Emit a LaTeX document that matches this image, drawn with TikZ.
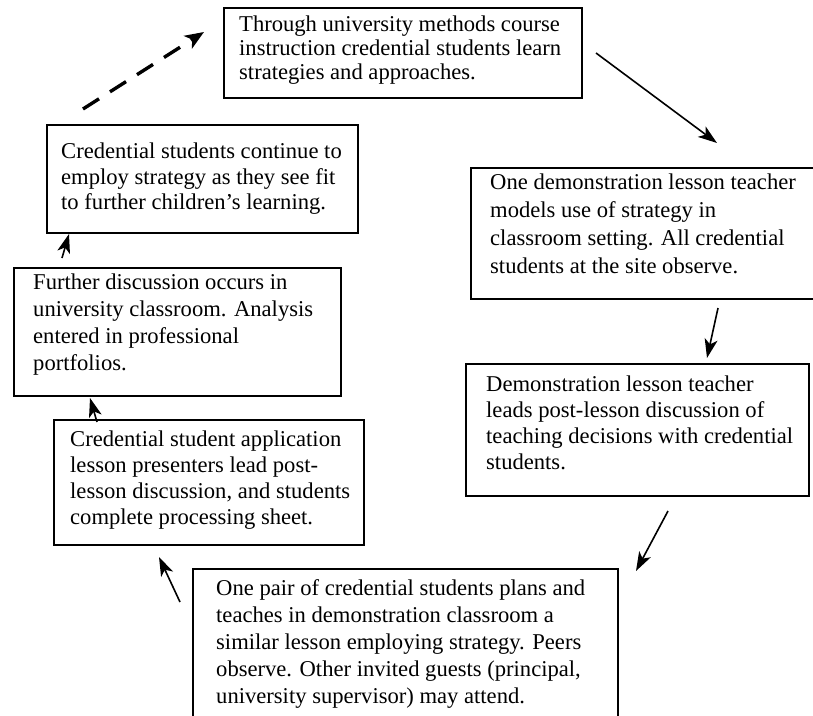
\documentclass[tikz,border=0pt]{standalone}
\usepackage{fontspec}
\setmainfont{Liberation Serif}
\usetikzlibrary{arrows.meta}
\begin{document}
\begin{tikzpicture}[x=1pt,y=-1pt,
  boxnode/.style={draw, line width=1.8pt, rectangle, inner sep=0pt, anchor=north west},
  txt/.style={anchor=north west, align=left, inner sep=0pt},
  arr/.style={line width=1.6pt, -{Stealth[length=19pt,width=13pt,inset=5pt]}},
  darr/.style={line width=3.4pt, dash pattern=on 19pt off 13pt, -{Stealth[length=19pt,width=15pt,inset=5pt]}}]
\useasboundingbox (0,0) rectangle (813,715);
\clip (0,0) rectangle (813,715);
\fill[white] (0,0) rectangle (813,715);

% boxes
\node[boxnode, minimum width=358pt, minimum height=90pt] (b1) at (223,7) {};
\node[boxnode, minimum width=345pt, minimum height=131pt] (b2) at (470,167) {};
\node[boxnode, minimum width=343pt, minimum height=132pt] (b3) at (465,363) {};
\node[boxnode, minimum width=425pt, minimum height=165pt] (b4) at (192,568) {};
\node[boxnode, minimum width=310pt, minimum height=125pt] (b5) at (53,419) {};
\node[boxnode, minimum width=327pt, minimum height=128pt] (b6) at (13,267) {};
\node[boxnode, minimum width=311pt, minimum height=108pt] (b7) at (46,124) {};

% texts
\node[txt, font=\fontsize{22.6}{24}\selectfont] (t1) at (239,16)
  {Through university methods course\\instruction credential students learn\\strategies and approaches.};
\node[txt, font=\fontsize{22.6}{28}\selectfont] (t2) at (490,174)
  {One demonstration lesson teacher\\models use of strategy in\\classroom setting. All credential\\students at the site observe.};
\node[txt, font=\fontsize{22.6}{26}\selectfont] (t3) at (486,376)
  {Demonstration lesson teacher\\leads post-lesson discussion of\\teaching decisions with credential\\students.};
\node[txt, font=\fontsize{22.6}{27}\selectfont] (t4) at (216,579)
  {One pair of credential students plans and\\teaches in demonstration classroom a\\similar lesson employing strategy. Peers\\observe. Other invited guests (principal,\\university supervisor) may attend.};
\node[txt, font=\fontsize{22.6}{26}\selectfont] (t5) at (70,431)
  {Credential student application\\lesson presenters lead post-\\lesson discussion, and students\\complete processing sheet.};
\node[txt, font=\fontsize{22.6}{27}\selectfont] (t6) at (33,274)
  {Further discussion occurs in\\university classroom. Analysis\\entered in professional\\portfolios.};
\node[txt, font=\fontsize{22.6}{25.5}\selectfont] (t7) at (61,143)
  {Credential students continue to\\employ strategy as they see fit\\to further children’s learning.};

% arrow end points
\coordinate (d0) at (83,109);  \coordinate (d1) at (204,32);
\coordinate (a1s) at (596,53); \coordinate (a1e) at (717,143);
\coordinate (a2s) at (718,308); \coordinate (a2e) at (707,358);
\coordinate (a3s) at (668,511); \coordinate (a3e) at (636,571);
\coordinate (a4s) at (180,602); \coordinate (a4e) at (159,557);
\coordinate (a5s) at (97,422);  \coordinate (a5e) at (90,398);
\coordinate (a6s) at (62,258);  \coordinate (a6e) at (69,234);

\draw[darr] (d0) -- (d1);
\draw[arr] (a1s) -- (a1e);
\draw[arr] (a2s) -- (a2e);
\draw[arr] (a3s) -- (a3e);
\draw[arr] (a4s) -- (a4e);
\draw[arr] (a5s) -- (a5e);
\draw[arr] (a6s) -- (a6e);
\end{tikzpicture}
\end{document}
